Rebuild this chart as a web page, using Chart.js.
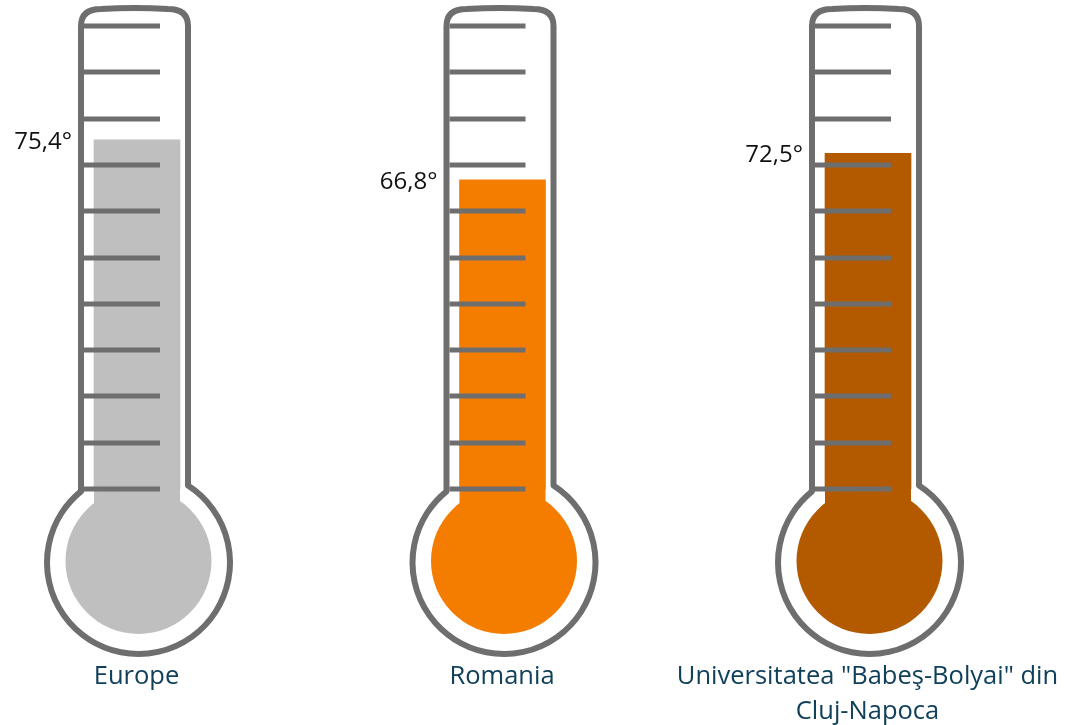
<!DOCTYPE html>
<html>
<head>
<meta charset="utf-8">
<script src="https://cdn.jsdelivr.net/npm/chart.js@4/dist/chart.umd.min.js"></script>
<style>
  html, body { margin: 0; padding: 0; background: #fff; }
  #thermo { display: block; }
</style>
</head>
<body>
<canvas id="thermo" width="1065" height="725"></canvas>
<script>
// --- Data ---
const CATEGORIES   = ['Europe', 'Romania', ['Universitatea "Babeş-Bolyai" din', 'Cluj-Napoca']];
const VALUES       = [75.4, 66.8, 72.5];
const FILL_COLORS  = ['#BFBFBF', '#F47D00', '#B35A00'];
const Y_MIN  = 0;
const Y_MAX  = 100;
const Y_STEP = 10;

// --- Look ---
const OUTLINE    = '#6E6E6E';
const LABEL_TEXT = '#10405A';
const FONT       = '"Open Sans", "DejaVu Sans", sans-serif';

function fmtDeg(v) {
  return v.toFixed(1).replace('.', ',') + '°';
}

// Draws the glass outline, bulb and scale marks round each bar
const thermometerPlugin = {
  id: 'thermometer',
  geometry(chart, el) {
    const y = chart.scales.y;
    const x = el.x;
    const y0 = y.getPixelForValue(Y_MIN);
    const yTop = y.getPixelForValue(Y_MAX);
    const tubeCx = x - 2.5;
    const L = tubeCx - 53.5, R = tubeCx + 53.5;
    const bx = x + 1.5, by = y0 + 73.5;
    return { x, y0, yTop, tubeCx, L, R, bx, by, ringR: 91.5, fillR: 73 };
  },
  beforeDatasetsDraw(chart) {
    const ctx = chart.ctx;
    const meta = chart.getDatasetMeta(0);
    meta.data.forEach((el, i) => {
      const g = this.geometry(chart, el);
      const w = el.width;
      ctx.save();
      // fill running down into the bulb
      ctx.fillStyle = FILL_COLORS[i];
      ctx.fillRect(g.x - w / 2, g.y0 - 1, w, g.by - g.y0);
      ctx.beginPath();
      ctx.arc(g.bx, g.by - 1.5, g.fillR, 0, Math.PI * 2);
      ctx.fill();

      // glass outline
      const dxL = g.L - g.bx, dxR = g.R - g.bx;
      const jyL = g.by - Math.sqrt(g.ringR * g.ringR - dxL * dxL);
      const jyR = g.by - Math.sqrt(g.ringR * g.ringR - dxR * dxR);
      const aL = Math.atan2(jyL - g.by, dxL);
      const aR = Math.atan2(jyR - g.by, dxR);
      const capTop = g.yTop - 17;
      ctx.beginPath();
      ctx.moveTo(g.L, jyL);
      ctx.lineTo(g.L, g.yTop);
      ctx.quadraticCurveTo(g.L, capTop, g.L + 20, capTop);
      ctx.quadraticCurveTo(g.tubeCx, capTop - 2, g.R - 20, capTop);
      ctx.quadraticCurveTo(g.R, capTop, g.R, g.yTop);
      ctx.lineTo(g.R, jyR);
      ctx.arc(g.bx, g.by, g.ringR, aR, aL, false);
      ctx.closePath();
      ctx.lineWidth = 6;
      ctx.strokeStyle = OUTLINE;
      ctx.lineJoin = 'round';
      ctx.stroke();
      ctx.restore();
    });
  },
  afterDatasetsDraw(chart) {
    const ctx = chart.ctx;
    const yScale = chart.scales.y;
    const meta = chart.getDatasetMeta(0);
    let ticks = yScale.ticks.map(t => t.value);
    if (!ticks.length) {
      ticks = [];
      for (let v = Y_MIN; v <= Y_MAX; v += Y_STEP) ticks.push(v);
    }
    meta.data.forEach((el, i) => {
      const g = this.geometry(chart, el);
      ctx.save();
      // scale marks on top of the fill
      ctx.strokeStyle = OUTLINE;
      ctx.lineWidth = 5;
      ticks.forEach(v => {
        const py = Math.round(yScale.getPixelForValue(v));
        ctx.beginPath();
        ctx.moveTo(g.L + 3, py);
        ctx.lineTo(g.L + 79, py);
        ctx.stroke();
      });

      // value label to the left of the tube
      ctx.fillStyle = '#111';
      ctx.font = '24px ' + FONT;
      ctx.textAlign = 'right';
      ctx.textBaseline = 'alphabetic';
      ctx.fillText(fmtDeg(VALUES[i]), g.L - 9, el.y + 9);

      // category label under the bulb
      const lines = [].concat(CATEGORIES[i]);
      ctx.fillStyle = LABEL_TEXT;
      ctx.font = '25.5px ' + FONT;
      ctx.textAlign = 'center';
      lines.forEach((ln, k) => ctx.fillText(ln, g.bx - 2, 684 + k * 35));
      ctx.restore();
    });
  }
};

new Chart(document.getElementById('thermo'), {
  type: 'bar',
  data: {
    labels: CATEGORIES,
    datasets: [{
      data: VALUES,
      backgroundColor: FILL_COLORS,
      barThickness: 86,
      borderWidth: 0,
      clip: false,
    }]
  },
  options: {
    responsive: false,
    animation: false,
    layout: { padding: { left: 137, right: 197, top: 26, bottom: 236 } },
    plugins: { legend: { display: false }, tooltip: { enabled: false } },
    scales: {
      x: { display: false, offset: false, grid: { display: false } },
      y: { display: false, min: Y_MIN, max: Y_MAX, ticks: { stepSize: Y_STEP } }
    }
  },
  plugins: [thermometerPlugin]
});
</script>
</body>
</html>
